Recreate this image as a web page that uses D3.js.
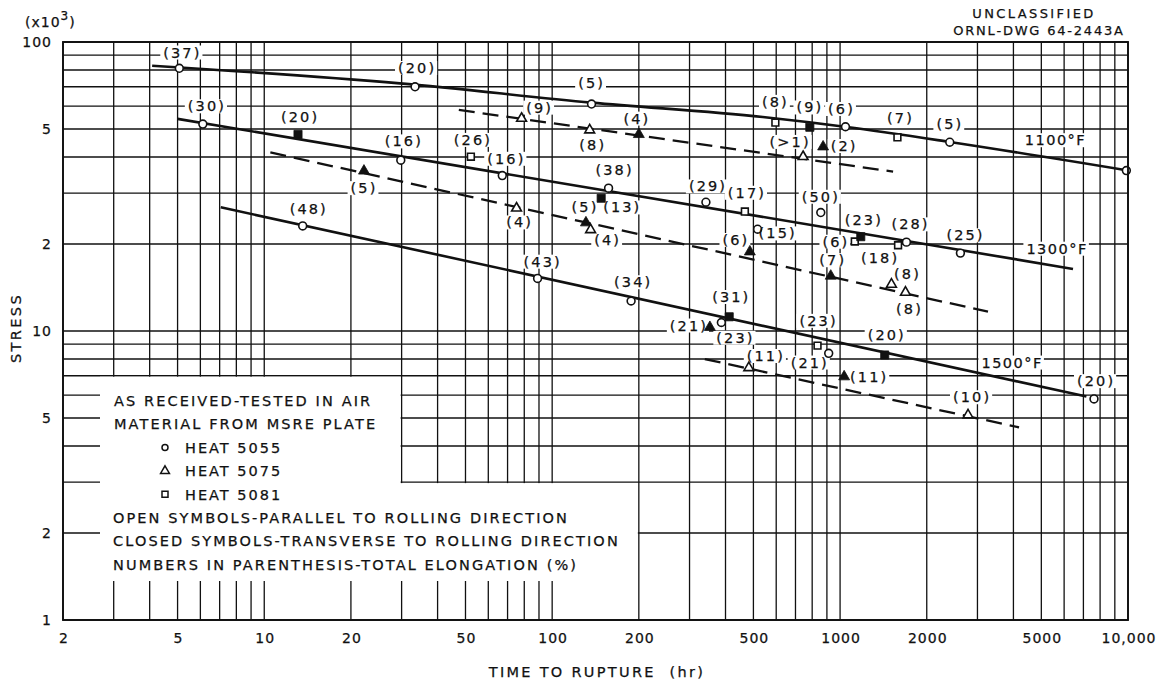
<!DOCTYPE html>
<html><head><meta charset="utf-8">
<script src="https://cdn.jsdelivr.net/npm/d3@7"></script>
<style>
body{margin:0;background:#fff;}
svg{display:block;font-family:"DejaVu Sans",sans-serif;}
svg text{stroke:#111;stroke-width:0.25px;}
</style></head><body>
<svg id="chart" width="1160" height="684"></svg>
<script>
// ---------------- DATA ----------------
const xTickValues = [2,5,10,20,50,100,200,500,1000,2000,5000,10000];
const xTickLabels = ["2","5","10","20","50","100","200","500","1000","2000","5000","10,000"];
const yTickValues = [1,2,5,10,20,50,100];
const yTickLabels = ["1","2","5","10","2","5","100"];

// [hours, stress (x10^3 psi), heat, closed (1 = transverse), total elongation label]
const points1100 = [
  [5.07, 81.1, 5055, 0, "(37)"],
  [33.4, 70.0, 5055, 0, "(20)"],
  [137, 61.0, 5055, 0, "(5)"],
  [596, 52.6, 5081, 0, "(8)"],
  [785, 50.7, 5081, 1, "(9)"],
  [1044, 50.9, 5055, 0, "(6)"],
  [1582, 46.8, 5081, 0, "(7)"],
  [2404, 45.0, 5055, 0, "(5)"],
  [9870, 35.9, 5055, 0, ""],
  [78.3, 54.4, 5075, 0, "(9)"],
  [135, 49.6, 5075, 0, "(8)"],
  [200, 47.9, 5075, 1, "(4)"],
  [744, 40.1, 5075, 0, "(>1)"],
  [873, 43.4, 5075, 1, "(2)"]
];
const points1300 = [
  [6.12, 52.0, 5055, 0, "(30)"],
  [13.1, 47.9, 5081, 1, "(20)"],
  [29.8, 39.0, 5055, 0, "(16)"],
  [52.2, 40.1, 5081, 0, "(26)"],
  [67.1, 34.5, 5055, 0, "(16)"],
  [157, 31.2, 5055, 0, "(38)"],
  [148, 28.8, 5081, 1, "(13)"],
  [342, 27.9, 5055, 0, "(29)"],
  [467, 25.9, 5081, 0, "(17)"],
  [857, 25.7, 5055, 0, "(50)"],
  [517, 22.5, 5055, 0, "(15)"],
  [1125, 20.4, 5081, 0, "(6)"],
  [1180, 21.2, 5081, 1, "(23)"],
  [1590, 19.8, 5081, 0, "(18)"],
  [1700, 20.3, 5055, 0, "(28)"],
  [2618, 18.6, 5055, 0, "(25)"],
  [22.2, 35.8, 5075, 1, "(5)"],
  [75.2, 26.6, 5075, 0, "(4)"],
  [131, 23.7, 5075, 1, "(5)"],
  [136, 22.4, 5075, 0, "(4)"],
  [486, 18.8, 5075, 1, "(6)"],
  [928, 15.5, 5075, 1, "(7)"],
  [1508, 14.5, 5075, 0, "(8)"],
  [1687, 13.6, 5075, 0, "(8)"]
];
const points1500 = [
  [13.6, 23.1, 5055, 0, "(48)"],
  [89, 15.2, 5055, 0, "(43)"],
  [188, 12.7, 5055, 0, "(34)"],
  [412, 11.2, 5081, 1, "(31)"],
  [387, 10.7, 5055, 0, "(23)"],
  [353, 10.3, 5075, 1, "(21)"],
  [835, 8.9, 5081, 0, "(23)"],
  [913, 8.37, 5055, 0, "(21)"],
  [1429, 8.26, 5081, 1, "(20)"],
  [7620, 5.82, 5055, 0, "(20)"],
  [482, 7.46, 5075, 0, "(11)"],
  [1033, 6.95, 5075, 1, "(11)"],
  [2782, 5.12, 5075, 0, "(10)"]
];

// fitted curves [hours, stress]
const fit1100 = [[4.08,82.8],[29.6,71.9],[137,61.7],[539,55.0],[1054,50.8],[2404,45.1],[9870,36.0]];
const fit1100Heat5075 = [[47.4,58.2],[1528,35.6]];
const fit1300 = [[5.0,54.2],[6442,16.4]];
const fit1300Heat5075 = [[10.5,41.5],[3264,11.66]];
const fit1500 = [[7.06,26.8],[7170,5.93]];
const fit1500Heat5075 = [[339,8.0],[4184,4.64]];

const tempLabels = ["1100°F","1300°F","1500°F"];

const legendLines = [
  "AS RECEIVED-TESTED IN AIR",
  "MATERIAL FROM MSRE PLATE",
  "HEAT 5055",
  "HEAT 5075",
  "HEAT 5081",
  "OPEN SYMBOLS-PARALLEL TO ROLLING DIRECTION",
  "CLOSED SYMBOLS-TRANSVERSE TO ROLLING DIRECTION",
  "NUMBERS IN PARENTHESIS-TOTAL ELONGATION (%)"
];
const legendHeats = [null, null, 5055, 5075, 5081, null, null, null];

// ---------------- LAYOUT (positions of annotations) ----------------
const labelOffsets1100 = [[2,-16],[1,-19],[-1,-21],[-1,-21],[-1,-20],[-5,-18],[2,-20],[-1,-18],[0,0],
  [17,-11],[2,15],[-3,-16],[-14,-15],[20,-1]];
const labelOffsets1300 = [[3,-18],[1,-18],[2,-19],[1,-17],[3,-17],[5,-18],[20,9],[1,-16],[1,-19],[-1,-16],
  [19,4],[-20,0],[2,-17],[-19,13],[3,-18],[4,-18],
  [-1,17],[2,14],[-2,-16],[16,10],[-15,-12],[1,-16],[15,-11],[3,16]];
const labelOffsets1500 = [[5,-17],[4,-17],[1,-19],[1,-20],[13,15],[-22,-2],[0,-25],[-20,9],[1,-20],[1,-18],
  [16,-12],[24,0],[3,-18]];
const tempLabelAnchors = [[5565,45.8],[5640,19.3],[3936,7.79]];

// ---------------- CHART ----------------
const svg = d3.select("#chart");
const x = d3.scaleLog().domain([2, 10000]).range([63, 1128]);
const y = d3.scaleLog().domain([1, 100]).range([620, 42]);
const INK = "#111";

const gGrid = svg.append("g");
const gKnock = svg.append("g");
const gLines = svg.append("g");
const gMarks = svg.append("g");
const gText = svg.append("g");

// grid values
const gx = [];
for (let d = 1; d <= 1000; d *= 10) for (let k = 1; k < 10; k++) { const v = k * d; if (v >= 2) gx.push(v); }
gx.push(10000);
const gy = [];
for (let d = 1; d <= 10; d *= 10) for (let k = 1; k < 10; k++) gy.push(k * d);
gy.push(100);

gGrid.selectAll("line.v").data(gx).join("line")
  .attr("x1", d => x(d)).attr("x2", d => x(d))
  .attr("y1", y(100)).attr("y2", y(1))
  .attr("stroke", INK).attr("stroke-width", 1.3);
gGrid.selectAll("line.h").data(gy).join("line")
  .attr("y1", d => y(d)).attr("y2", d => y(d))
  .attr("x1", x(2)).attr("x2", x(10000))
  .attr("stroke", INK).attr("stroke-width", 1.3);

// legend knockout
const legTop = y(7) + 1, legBot = 581, legLeft = 100;
gKnock.append("rect").attr("x", legLeft).attr("y", legTop)
  .attr("width", x(30) - 1 - legLeft).attr("height", legBot - legTop).attr("fill", "#fff");
gKnock.append("rect").attr("x", x(30) - 1.5).attr("y", y(3) + 1)
  .attr("width", x(200) - 1 - (x(30) - 1.5)).attr("height", legBot - y(3) - 1).attr("fill", "#fff");

// frame
svg.append("rect").attr("x", x(2)).attr("y", y(100))
  .attr("width", x(10000) - x(2)).attr("height", y(1) - y(100))
  .attr("fill", "none").attr("stroke", INK).attr("stroke-width", 1.9);

// axes
const xAxis = d3.axisBottom(x).tickValues(xTickValues)
  .tickFormat((d, i) => xTickLabels[i]).tickSize(0).tickPadding(13);
const gxA = svg.append("g").attr("transform", `translate(0,${y(1)})`).call(xAxis);
const yAxis = d3.axisLeft(y).tickValues(yTickValues)
  .tickFormat((d, i) => yTickLabels[i]).tickSize(0).tickPadding(11);
const gyA = svg.append("g").attr("transform", `translate(${x(2)},0)`).call(yAxis);
[gxA, gyA].forEach(g => {
  g.select(".domain").remove();
  g.selectAll("text").attr("font-family", "DejaVu Sans").attr("font-size", 14)
    .attr("fill", INK).style("letter-spacing", "1px");
});
gxA.selectAll("text").attr("dx", "0.5px");

// fitted lines
const lineGen = d3.line().x(d => x(d[0])).y(d => y(d[1])).curve(d3.curveMonotoneX);
[fit1100, fit1300, fit1500].forEach(f => {
  gLines.append("path").attr("d", lineGen(f)).attr("fill", "none")
    .attr("stroke", INK).attr("stroke-width", 2.6);
});
[fit1100Heat5075, fit1300Heat5075, fit1500Heat5075].forEach(f => {
  gLines.append("path").attr("d", lineGen(f)).attr("fill", "none")
    .attr("stroke", INK).attr("stroke-width", 2.3).attr("stroke-dasharray", "16,8");
});

// markers
const symType = { 5055: d3.symbolCircle, 5075: d3.symbolTriangle, 5081: d3.symbolSquare };
function symSize(heat, closed) {
  if (heat === 5055) return 48;
  if (heat === 5075) return closed ? 52 : 42;
  return closed ? 66 : 46;
}
const allSets = [
  [points1100, labelOffsets1100],
  [points1300, labelOffsets1300],
  [points1500, labelOffsets1500]
];
function labelText(g, tx, ty, str, opts = {}) {
  const ls = opts.ls ?? 2.1;
  return g.append("text").attr("x", tx + ls / 2).attr("y", ty).attr("dy", "0.36em")
    .attr("text-anchor", opts.anchor || "middle")
    .attr("font-size", opts.size || 14.5).attr("fill", INK)
    .style("letter-spacing", ls + "px").text(str);
}
const knockTexts = [];
allSets.forEach(([pts, offs]) => {
  pts.forEach((p, i) => {
    const cx = x(p[0]), cy = y(p[1]);
    gMarks.append("path")
      .attr("transform", `translate(${cx},${cy})`)
      .attr("d", d3.symbol().type(symType[p[2]]).size(symSize(p[2], p[3]))())
      .attr("fill", p[3] ? INK : "#fff")
      .attr("stroke", INK).attr("stroke-width", p[3] ? 0.8 : 1.6);
    if (p[4]) {
      const o = offs[i];
      knockTexts.push(labelText(gText, cx + o[0], cy + o[1], p[4]));
    }
  });
});

// temperature labels
tempLabels.forEach((t, i) => {
  const a = tempLabelAnchors[i];
  knockTexts.push(labelText(gText, x(a[0]), y(a[1]), t, { ls: 1.5 }));
});

// knockouts behind annotation labels
knockTexts.forEach(t => {
  const b = t.node().getBBox();
  gKnock.append("rect").attr("x", b.x - 3).attr("y", b.y + 1)
    .attr("width", b.width + 4).attr("height", b.height - 2).attr("fill", "#fff");
});

// legend
const legY0 = 400.7, legStep = 23.4;
legendLines.forEach((s, i) => {
  const ly = legY0 + i * legStep;
  const heat = legendHeats[i];
  if (heat) {
    gText.append("path").attr("transform", `translate(165,${ly})`)
      .attr("d", d3.symbol().type(symType[heat]).size(heat === 5055 ? 28 : heat === 5075 ? 34 : 36)())
      .attr("fill", "#fff").attr("stroke", INK).attr("stroke-width", 1.5);
    gText.append("text").attr("x", 185).attr("y", ly).attr("dy", "0.36em")
      .attr("font-size", 14.5).attr("fill", INK).style("letter-spacing", "2px").text(s);
  } else {
    gText.append("text").attr("x", i < 2 ? 114 : 113).attr("y", ly).attr("dy", "0.36em")
      .attr("font-size", 14.5).attr("fill", INK).style("letter-spacing", "2.1px").text(s);
  }
});

// axis titles
svg.append("text").attr("x", 597).attr("y", 672).attr("dy", "0.36em")
  .attr("text-anchor", "middle").attr("font-size", 14.5).attr("fill", INK)
  .style("letter-spacing", "2.3px").style("white-space", "pre").text("TIME TO RUPTURE  (hr)");
svg.append("text").attr("transform", "translate(16,328) rotate(-90)").attr("dy", "0.36em")
  .attr("text-anchor", "middle").attr("font-size", 14.5).attr("fill", INK)
  .style("letter-spacing", "2.4px").text("STRESS");
const unit = svg.append("text").attr("x", 25).attr("y", 26.5)
  .attr("font-size", 14).attr("fill", INK).style("letter-spacing", "1px");
unit.append("tspan").text("(x10");
unit.append("tspan").attr("dy", -7).attr("font-size", 12).text("3");
unit.append("tspan").attr("dy", 7).text(")");

svg.append("text").attr("x", 1034).attr("y", 13.5).attr("dy", "0.36em")
  .attr("text-anchor", "middle").attr("font-size", 13).attr("fill", INK)
  .style("letter-spacing", "2.4px").text("UNCLASSIFIED");
svg.append("text").attr("x", 1039).attr("y", 30).attr("dy", "0.36em")
  .attr("text-anchor", "middle").attr("font-size", 13).attr("fill", INK)
  .style("letter-spacing", "1.8px").text("ORNL-DWG 64-2443A");
</script>
</body></html>
